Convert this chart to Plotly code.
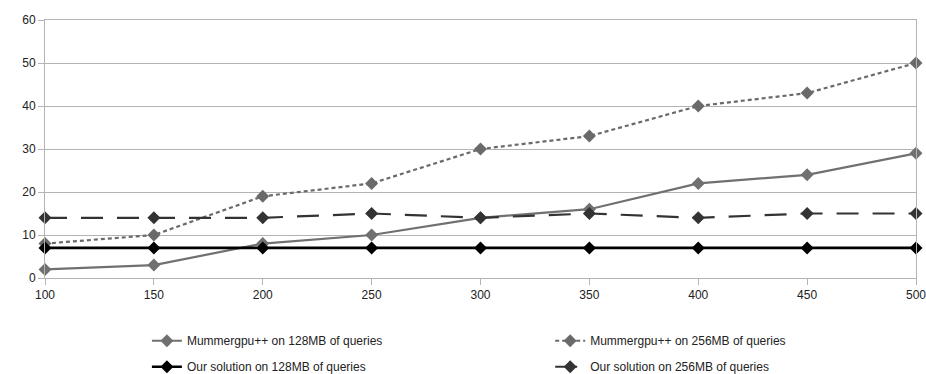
import plotly.graph_objects as go

x_vals = [100, 150, 200, 250, 300, 350, 400, 450, 500]
mummer_128 = [2, 3, 8, 10, 14, 16, 22, 24, 29]
mummer_256 = [8, 10, 19, 22, 30, 33, 40, 43, 50]
ours_128 = [7, 7, 7, 7, 7, 7, 7, 7, 7]
ours_256 = [14, 14, 14, 15, 14, 15, 14, 15, 15]

names = ["Mummergpu++ on 128MB of queries", "Mummergpu++ on 256MB of queries",
         "Our solution on 128MB of queries", "Our solution on 256MB of queries"]
series = [mummer_128, mummer_256, ours_128, ours_256]
colors = ["#707070", "#6a6a6a", "#000000", "#333333"]
dashes = ["solid", "4px,3px", "solid", "22px,14px"]
widths = [2.2, 2.2, 2.6, 2.2]
legends = ["legend", "legend2", "legend", "legend2"]

fig = go.Figure()
for i, (n, s, c, d, w, lg) in enumerate(zip(names, series, colors, dashes, widths, legends)):
    fig.add_trace(go.Scatter(
        x=x_vals, y=s, name=n, mode="lines+markers",
        line=dict(color=c, width=w, dash=d),
        marker=dict(symbol="diamond", size=10, color=c),
        cliponaxis=False, legend=lg, legendgroup=f"g{i}",
    ))

leg_common = dict(orientation="v", yanchor="top", y=-0.187, xanchor="left",
                  font=dict(size=12), tracegroupgap=7, bgcolor="rgba(0,0,0,0)")
fig.update_layout(
    width=926, height=374,
    margin=dict(l=45, r=10, t=20, b=96, autoexpand=False),
    plot_bgcolor="white", paper_bgcolor="white",
    font=dict(family="Liberation Sans, Arial, sans-serif", size=12, color="#222222"),
    showlegend=True,
    legend=dict(x=0.117, **leg_common),
    legend2=dict(x=0.580, **leg_common),
)
fig.update_xaxes(range=[100, 500], tickvals=x_vals, ticks="outside", ticklen=6,
                 tickcolor="#b3b3b3", showgrid=False, showline=True,
                 linecolor="#b3b3b3", linewidth=1, mirror=True, zeroline=False,
                 ticklabeloverflow="allow")
fig.update_yaxes(range=[0, 60], dtick=10, ticks="outside", ticklen=6,
                 tickcolor="#b3b3b3", showgrid=True, gridcolor="#b3b3b3",
                 showline=True, linecolor="#b3b3b3", linewidth=1, mirror=True,
                 zeroline=False)

fig.write_html("out.html", config={"displayModeBar": False},
               post_script="document.body.style.margin='0';")
